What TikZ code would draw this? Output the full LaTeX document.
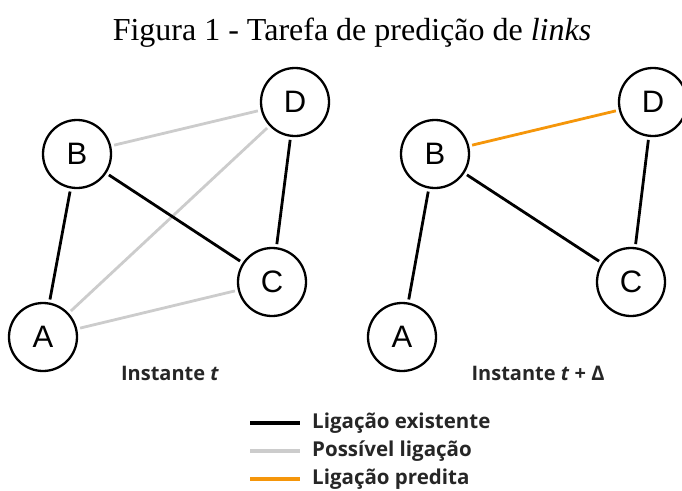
\documentclass[tikz,border=0pt]{standalone}
\usepackage{fontspec}
\setmainfont{Liberation Serif}
\newfontfamily\vertexfont{Liberation Sans}
\newfontfamily\legendfont{Open Sans}
\usetikzlibrary{calc}

\definecolor{possivel}{RGB}{204,204,204}
\definecolor{predita}{RGB}{245,150,10}
\definecolor{rotulo}{RGB}{38,38,38}

\tikzset{
  vertex/.style={
    draw=#1,
    circle,
    line width=2.3pt,
    minimum size=68pt,
    inner sep=0pt,
    font=\vertexfont\fontsize{31}{33}\selectfont
  },
  vertex/.default={black},
%
  edge/.style={
    draw=#1,
    line width=2.8pt,
    shorten <=3pt,
    shorten >=3pt
  },
  edge/.default={black},
%
  keyline/.style={
    draw=#1,
    line width=3.4pt
  },
  keyline/.default={black},
%
  caption/.style={
    text=rotulo,
    font=\legendfont\bfseries\fontsize{20}{23}\selectfont
  },
%
  keytext/.style={
    caption,
    font=\legendfont\bfseries\fontsize{20.5}{24}\selectfont,
    anchor=west,
    inner sep=0pt
  },
}

\begin{document}
\begin{tikzpicture}[x=1pt, y=-1pt]
\useasboundingbox (0,0) rectangle (682,490);

\node[font=\fontsize{32}{36}\selectfont] at (352,33) (title) {Figura 1 - Tarefa de predição de \textit{links}};

\node[vertex] at (77,154) (b1) {B};
\node[vertex] at (295,102) (d1) {D};
\node[vertex] at (272,282) (c1) {C};
\node[vertex] at (43,337) (a1) {A};
\node[caption] at (170,373) (t1) {Instante \textit{t}};
\draw[edge=possivel] (b1) -- (d1);
\draw[edge=possivel] (a1) -- (d1);
\draw[edge=possivel] (a1) -- (c1);
\draw[edge] (b1) -- (a1);
\draw[edge] (b1) -- (c1);
\draw[edge] (d1) -- (c1);

\node[vertex] at (435,154) (b2) {B};
\node[vertex] at (653,102) (d2) {D};
\node[vertex] at (631,282) (c2) {C};
\node[vertex] at (402,337) (a2) {A};
\node[caption] at (538,373) (t2) {Instante \textit{t} + Δ};
\draw[edge=predita] (b2) -- (d2);
\draw[edge] (b2) -- (a2);
\draw[edge] (b2) -- (c2);
\draw[edge] (d2) -- (c2);

\node[keytext] at (312,423) (k1) {Ligação existente};
\node[keytext] at (312,451) (k2) {Possível ligação};
\node[keytext] at (312,479) (k3) {Ligação predita};
\draw[keyline] (k1.west) ++(-62,0) -- ++(50,0);
\draw[keyline=possivel] (k2.west) ++(-62,0) -- ++(50,0);
\draw[keyline=predita] (k3.west) ++(-62,0) -- ++(50,0);

\end{tikzpicture}
\end{document}
